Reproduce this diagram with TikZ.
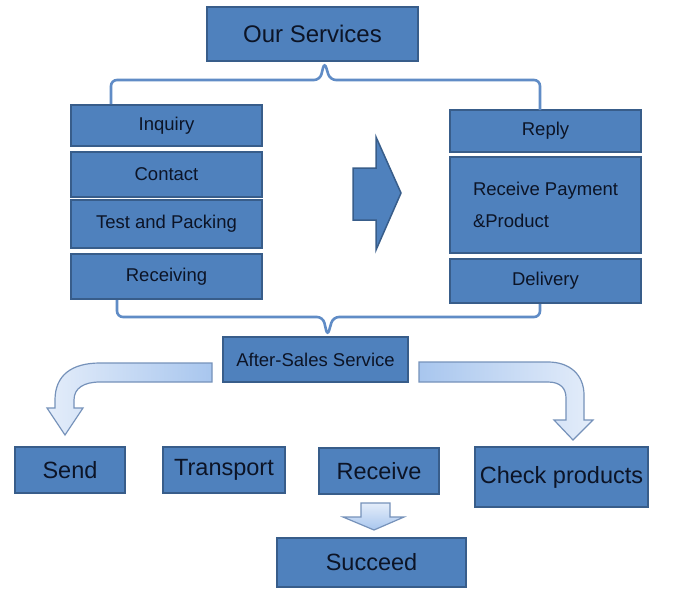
\documentclass[tikz,border=0pt]{standalone}
\usepackage{fontspec}
\setmainfont{Liberation Sans}
\usepackage{xcolor}
\definecolor{boxblue}{RGB}{79, 129, 189}
\definecolor{boxedge}{RGB}{56, 93, 138}
\definecolor{braceblue}{RGB}{96, 140, 198}
\definecolor{inkdark}{RGB}{12, 20, 38}
\definecolor{arrowmid}{RGB}{168, 198, 238}
\definecolor{arrowlight}{RGB}{228, 237, 250}
\definecolor{arrowedge}{RGB}{118, 146, 186}
\usepackage{tikz}
\usetikzlibrary{arrows.meta, positioning, calc}

\begin{document}
\begin{tikzpicture}[x=1pt, y=-1pt,
    blockbox/.style={draw=boxedge, fill=boxblue, line width=2pt, inner sep=0pt, text=inkdark},
    smalltext/.style={font=\fontsize{18.5}{22}\selectfont},
    bigtext/.style={font=\fontsize{23.5}{28}\selectfont},
    brace/.style={draw=braceblue, line width=2.6pt, rounded corners=6pt},
    flowarrow/.style={draw=arrowedge, line width=1.2pt}]
    \useasboundingbox[fill=white] (0,0) rectangle (684,607);

    \node[blockbox, font=\fontsize{24}{28}\selectfont, minimum width=211pt, minimum height=54pt] (services) at (312.5,34) {Our Services};

    % left column
    \node[blockbox, smalltext, minimum width=191pt, minimum height=41pt] (inquiry) at (166.5,125.5) {Inquiry};
    \node[blockbox, smalltext, minimum width=191pt, minimum height=45pt] (contact) at (166.5,174.5) {Contact};
    \node[blockbox, smalltext, minimum width=191pt, minimum height=48pt] (packing) at (166.5,224) {Test and Packing};
    \node[blockbox, smalltext, minimum width=191pt, minimum height=45pt] (receiving) at (166.5,276.5) {Receiving};

    % right column
    \node[blockbox, smalltext, minimum width=191pt, minimum height=42pt] (reply) at (545.5,131) {Reply};
    \node[blockbox, font=\fontsize{18.5}{32}\selectfont, align=left, minimum width=191pt, minimum height=96pt] (payment) at (545.5,205) {Receive Payment\\\&Product};
    \node[blockbox, smalltext, minimum width=191pt, minimum height=44pt] (delivery) at (545.5,281) {Delivery};

    \draw[fill=boxblue, draw=boxedge, line width=1.5pt] (353,168) -- (376,168) -- (376,137) -- (401,193) -- (376,250) -- (376,220) -- (353,220) -- cycle;

    \node[blockbox, smalltext, minimum width=185pt, minimum height=45pt] (after) at (315.5,359.5) {After-Sales Service};

    \draw[brace] (111,104) -- (111,80) -- (320,80) -- ([xshift=12pt]services.south) -- (330,80) -- (540,80) -- (540,110);
    \draw[brace] (117,300) -- (117,317) -- (323,317) -- ([xshift=12pt]after.north) -- (333,317) -- (540,317) -- (540,304);

    % bottom row
    \node[blockbox, bigtext, minimum width=110pt, minimum height=46pt] (send) at (70,470) {Send};
    \node[blockbox, bigtext, minimum width=122pt, minimum height=46pt] (transport) at (224,470) {Transport};
    \node[blockbox, bigtext, minimum width=120pt, minimum height=46pt] (receive) at (379,471) {Receive};
    \node[blockbox, bigtext, minimum width=173pt, minimum height=60pt] (check) at (561.5,477) {Check products};
    \node[blockbox, bigtext, minimum width=189pt, minimum height=49pt] (succeed) at (371.5,562.5) {Succeed};

    \draw[flowarrow, left color=arrowlight, right color=arrowmid] (212,363) -- (100,363) .. controls (72,363) and (55,375) .. (55,400) -- (55,408) -- (47,408) -- (65,435) -- (83,408) -- (74,408) -- (74,400) .. controls (74,388) and (84,382) .. (100,382) -- (212,382) -- cycle;
    \draw[flowarrow, left color=arrowmid, right color=arrowlight] (419,362) -- (548,362) .. controls (570,362) and (584,375) .. (584,395) -- (584,420) -- (593,420) -- (573,440) -- (554,420) -- (566,420) -- (566,398) .. controls (566,388) and (560,382) .. (548,382) -- (419,382) -- cycle;
    \draw[flowarrow, top color=arrowlight, bottom color=arrowmid] (361,503) -- (390,503) -- (390,517) -- (404,517) -- (374,530) -- (343,517) -- (361,517) -- cycle;
\end{tikzpicture}
\end{document}
